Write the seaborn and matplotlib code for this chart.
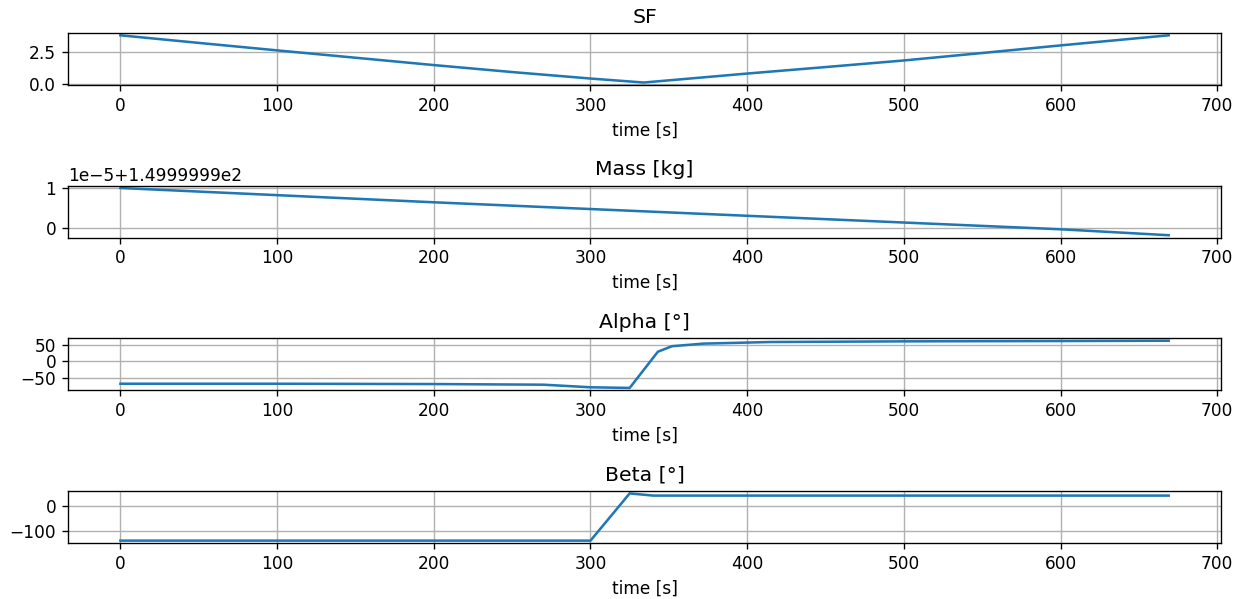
import matplotlib
matplotlib.use("Agg")
import matplotlib.pyplot as plt
import seaborn as sns
import numpy as np

# --- data ------------------------------------------------------------------
sf_time = [0, 50, 100, 150, 200, 250, 300, 334, 400, 450, 500, 550, 600, 669]
sf_value = [3.87, 3.26, 2.66, 2.07, 1.48, 0.92, 0.40, 0.08,
            0.80, 1.32, 1.85, 2.45, 3.06, 3.87]

mass_time = [0, 100, 200, 300, 400, 500, 600, 669]
mass_kg = [150.0, 149.9999982, 149.9999964, 149.9999947,
           149.999993, 149.9999913, 149.9999896, 149.9999881]

alpha_time = [0, 100, 200, 270, 300, 325, 343, 352, 372, 415, 500, 600, 669]
alpha_deg = [-69, -69, -70, -72, -80, -82, 30, 47, 55, 60, 62, 63, 64]

beta_time = [0, 100, 200, 300, 325, 340, 400, 500, 600, 669]
beta_deg = [-138, -138, -138, -138, 48.6, 40, 40, 40, 40, 40]

panels = [
    ("SF", sf_time, sf_value),
    ("Mass [kg]", mass_time, mass_kg),
    ("Alpha [°]", alpha_time, alpha_deg),
    ("Beta [°]", beta_time, beta_deg),
]

DPI = 122
fig, axes = plt.subplots(4, 1, figsize=(1246 / DPI, 599 / DPI), dpi=DPI)

for ax, (title, t, y) in zip(axes, panels):
    sns.lineplot(x=np.array(t, dtype=float), y=np.array(y, dtype=float),
                 ax=ax, color="#1f77b4", linewidth=1.5)
    ax.set_title(title)
    ax.set_xlabel("time [s]")
    ax.set_ylabel("")
    ax.set_xticks([0, 100, 200, 300, 400, 500, 600, 700])
    ax.grid(True)

fig.subplots_adjust(left=0.0546, right=0.98, top=0.945, bottom=0.0935,
                    hspace=1.94)
fig.savefig("out.png", dpi=DPI)
